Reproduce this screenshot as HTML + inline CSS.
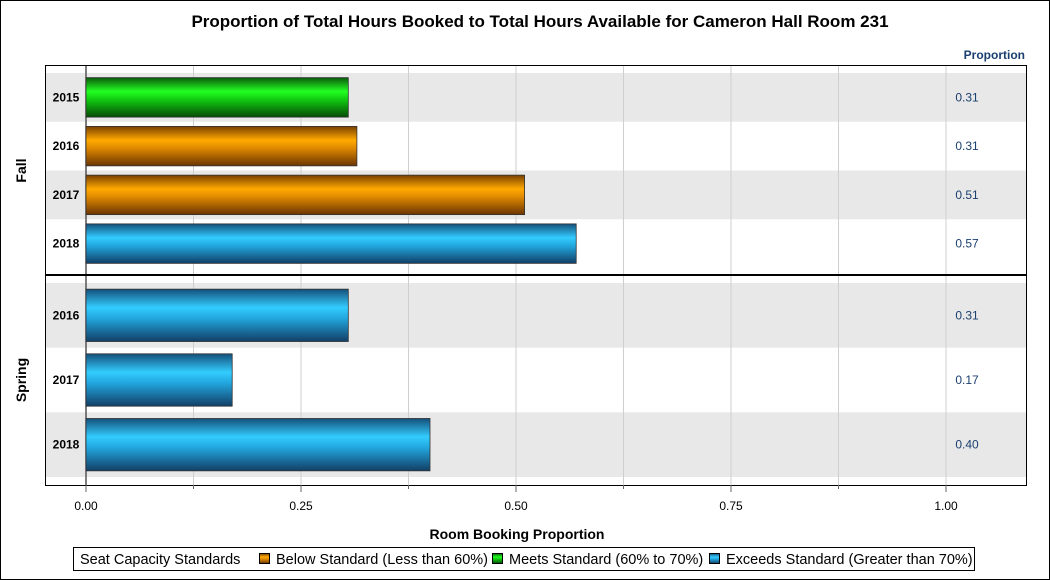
<!DOCTYPE html>
<html><head><meta charset="utf-8"><style>
body{margin:0;background:#fff;font-family:"Liberation Sans",Arial,sans-serif}
svg{display:block}
</style></head><body>
<svg id="chart" width="1050" height="580" xmlns="http://www.w3.org/2000/svg" font-family="Liberation Sans, Arial, sans-serif">
<defs>
<linearGradient id="gGreen" x1="0" y1="0" x2="0" y2="1"><stop offset="0" stop-color="#0a5a0a"/><stop offset="0.35" stop-color="#22ff22"/><stop offset="0.55" stop-color="#11cc11"/><stop offset="1" stop-color="#064a06"/></linearGradient>
<linearGradient id="gOrange" x1="0" y1="0" x2="0" y2="1"><stop offset="0" stop-color="#7a4000"/><stop offset="0.35" stop-color="#ffaa00"/><stop offset="0.55" stop-color="#e08a00"/><stop offset="1" stop-color="#6a3500"/></linearGradient>
<linearGradient id="gBlue" x1="0" y1="0" x2="0" y2="1"><stop offset="0" stop-color="#14507a"/><stop offset="0.35" stop-color="#33ccff"/><stop offset="0.55" stop-color="#22a8e0"/><stop offset="1" stop-color="#123f66"/></linearGradient>
</defs>
<rect x="0.5" y="0.5" width="1049" height="579" fill="#fff" stroke="#000"/>
<text x="540" y="27" text-anchor="middle" font-size="17" font-weight="bold">Proportion of Total Hours Booked to Total Hours Available for Cameron Hall Room 231</text>
<text x="1025" y="59" text-anchor="end" font-size="12" font-weight="bold" fill="#1a3f6f">Proportion</text>
<g id="plot"></g>
<text x="517" y="539" text-anchor="middle" font-size="14" font-weight="bold">Room Booking Proportion</text>
<g>
<rect x="73.5" y="547.5" width="901" height="23" fill="#fff" stroke="#000"/>
<text x="80" y="564" font-size="14.5">Seat Capacity Standards</text>
<rect x="259.5" y="553.5" width="10" height="10" fill="url(#gOrange)" stroke="#000"/>
<text x="276" y="564" font-size="14.5">Below Standard (Less than 60%)</text>
<rect x="492.5" y="553.5" width="10" height="10" fill="url(#gGreen)" stroke="#000"/>
<text x="509" y="564" font-size="14.5">Meets Standard (60% to 70%)</text>
<rect x="709.5" y="553.5" width="10" height="10" fill="url(#gBlue)" stroke="#000"/>
<text x="726" y="564" font-size="14.5">Exceeds Standard (Greater than 70%)</text>
</g>
</svg>
<script>
const terms = ["Fall","Fall","Fall","Fall","Spring","Spring","Spring"];
const years = ["2015","2016","2017","2018","2016","2017","2018"];
const values = [0.305,0.315,0.51,0.57,0.305,0.17,0.40];
const labels = ["0.31","0.31","0.51","0.57","0.31","0.17","0.40"];
const statuses = ["meets","below","below","exceeds","exceeds","exceeds","exceeds"];
const tickVals = [0,0.25,0.5,0.75,1.0];
const tickLabels = ["0.00","0.25","0.50","0.75","1.00"];
const minorTicks = [0.125,0.375,0.625,0.875];

const NS="http://www.w3.org/2000/svg";
const g=document.getElementById('plot');
const x0=86,x1=946;
const xs=v=>x0+v*(x1-x0);
const L=45,R=1027,T=65,B=485,DIV=275;
function mk(tag,attrs,parent){const e=document.createElementNS(NS,tag);for(const k in attrs)e.setAttribute(k,attrs[k]);(parent||g).appendChild(e);return e;}
const panels=[{name:"Fall",top:73,bot:268},{name:"Spring",top:283,bot:477}];
const fills={meets:"url(#gGreen)",below:"url(#gOrange)",exceeds:"url(#gBlue)"};
panels.forEach(p=>{
  const idx=terms.map((t,i)=>t===p.name?i:-1).filter(i=>i>=0);
  const h=(p.bot-p.top)/idx.length;
  idx.forEach((i,k)=>{
    const y=p.top+k*h;
    if(k%2===0){const band=mk('rect',{x:L,y:y,width:R-L,height:h,fill:'#e8e8e8'});
      
      }
  });
});
for(let v=0.125;v<=1.0001;v+=0.125){
  const gl=mk('line',{x1:xs(v),x2:xs(v),y1:T,y2:B,stroke:'#cfcfcf','stroke-width':1});
  
  
}
mk('line',{x1:x0,x2:x0,y1:T,y2:B,stroke:'#555','stroke-width':1.5});
panels.forEach(p=>{
  const idx=terms.map((t,i)=>t===p.name?i:-1).filter(i=>i>=0);
  const h=(p.bot-p.top)/idx.length;
  const bh=h*0.81;
  idx.forEach((i,k)=>{
    const cy=p.top+k*h+h/2;
    const r=mk('rect',{x:x0,y:cy-bh/2,width:xs(values[i])-x0,height:bh,fill:fills[statuses[i]],stroke:'#333','stroke-width':0.8});
    
    
    const yl=mk('text',{x:66,y:cy+4,'text-anchor':'middle','font-size':12,'font-weight':'bold'});yl.textContent=years[i];
    
    
    const vl=mk('text',{x:967,y:cy+4,'text-anchor':'middle','font-size':12,fill:'#1a3f6f'});vl.textContent=labels[i];
    
    
  });
  const my=(p.top+p.bot)/2;
  const tl=mk('text',{x:0,y:0,transform:`translate(26,${my}) rotate(-90)`,'text-anchor':'middle','font-size':14,'font-weight':'bold'});tl.textContent=p.name;
  
  
});
mk('rect',{x:L+0.5,y:T+0.5,width:R-L-1,height:B-T,fill:'none',stroke:'#000'});
mk('line',{x1:L,x2:R,y1:DIV,y2:DIV,stroke:'#000','stroke-width':2});
tickVals.forEach((v,i)=>{
  mk('line',{x1:xs(v),x2:xs(v),y1:B,y2:B+7,stroke:'#666'});
  const t=mk('text',{x:xs(v),y:510,'text-anchor':'middle','font-size':12});t.textContent=tickLabels[i];
  
  
});
minorTicks.forEach(v=>{mk('line',{x1:xs(v),x2:xs(v),y1:B,y2:B+4,stroke:'#666'});});
</script>
</body></html>
